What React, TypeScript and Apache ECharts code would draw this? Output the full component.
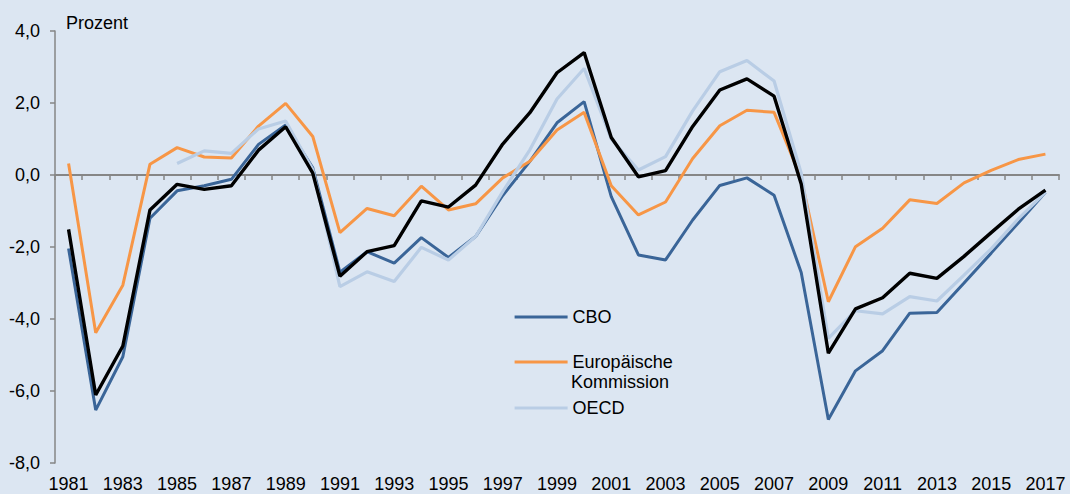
import React, { useEffect, useRef } from "react";
import * as echarts from "echarts";

const years = [
  "1981", "1982", "1983", "1984", "1985", "1986", "1987", "1988", "1989", "1990",
  "1991", "1992", "1993", "1994", "1995", "1996", "1997", "1998", "1999", "2000",
  "2001", "2002", "2003", "2004", "2005", "2006", "2007", "2008", "2009", "2010",
  "2011", "2012", "2013", "2014", "2015", "2016", "2017",
];

const cbo = [
  -2.04, -6.53, -5.05, -1.2, -0.44, -0.3, -0.12, 0.85, 1.39, 0.2,
  -2.7, -2.13, -2.45, -1.74, -2.29, -1.71, -0.57, 0.38, 1.45, 2.04,
  -0.6, -2.22, -2.36, -1.25, -0.29, -0.08, -0.56, -2.71, -6.79, -5.44,
  -4.88, -3.84, -3.82, -3.0, -2.17, -1.33, -0.48,
];

const europaeischeKommission = [
  0.32, -4.38, -3.06, 0.3, 0.76, 0.5, 0.47, 1.36, 1.99, 1.07,
  -1.6, -0.93, -1.13, -0.31, -0.97, -0.8, -0.08, 0.38, 1.25, 1.74,
  -0.3, -1.11, -0.75, 0.46, 1.37, 1.8, 1.74, -0.1, -3.52, -1.99,
  -1.48, -0.69, -0.79, -0.22, 0.13, 0.43, 0.58,
];

const oecd = [
  null, null, null, null, 0.32, 0.67, 0.6, 1.28, 1.5, 0.15,
  -3.1, -2.69, -2.96, -2.01, -2.36, -1.71, -0.46, 0.7, 2.11, 2.96,
  1.0, 0.14, 0.51, 1.78, 2.87, 3.18, 2.61, 0.05, -4.54, -3.77,
  -3.86, -3.38, -3.5, -2.78, -2.05, -1.22, -0.48,
];

const durchschnitt = [
  -1.51, -6.11, -4.75, -0.97, -0.26, -0.4, -0.3, 0.69, 1.34, 0.05,
  -2.81, -2.13, -1.96, -0.72, -0.89, -0.28, 0.86, 1.73, 2.84, 3.4,
  1.04, -0.05, 0.12, 1.35, 2.36, 2.67, 2.19, -0.25, -4.95, -3.72,
  -3.41, -2.73, -2.87, -2.26, -1.6, -0.95, -0.42,
];

const FONT = "'Liberation Sans', Arial, sans-serif";
const AXIS_GRAY = "#868686";

export default function App() {
  const ref = useRef<HTMLDivElement>(null);

  useEffect(() => {
    if (!ref.current) return;
    const chart = echarts.init(ref.current, null, { renderer: "svg" });
    const mkLine = (name: string, data: any[], color: string, width: number) => ({
      name,
      type: "line",
      data,
      xAxisIndex: 0,
      yAxisIndex: 0,
      symbol: "none",
      lineStyle: { color, width },
      itemStyle: { color },
      emphasis: { disabled: true },
    });
    const legendBase = {
      orient: "vertical",
      left: 513,
      padding: 0,
      itemWidth: 53,
      itemHeight: 14,
      selectedMode: false,
      itemStyle: { opacity: 0 },
      lineStyle: { width: 3.2 },
      textStyle: { fontFamily: FONT, fontSize: 18, color: "#000", lineHeight: 22 },
    };
    chart.setOption({
      animation: false,
      backgroundColor: "#dce6f2",
      textStyle: { fontFamily: FONT },
      title: {
        text: "Prozent",
        left: 66,
        top: 14,
        padding: 0,
        textStyle: { fontFamily: FONT, fontSize: 18, fontWeight: "normal", color: "#000" },
      },
      grid: { left: 55, right: 11, top: 31, bottom: 31, outerBoundsMode: "none" },
      legend: [
        { ...legendBase, top: 306, data: ["CBO"] },
        {
          ...legendBase,
          top: 351,
          data: ["Europäische Kommission"],
          formatter: () => "Europäische",
        },
        { ...legendBase, top: 397, data: ["OECD"] },
      ],
      graphic: [
        {
          type: "text",
          left: 571,
          top: 373,
          style: { text: "Kommission", font: `18px ${FONT}`, fill: "#000" },
        },
      ],
      xAxis: [
        {
          type: "category",
          data: years,
          position: "bottom",
          axisLine: { show: false, onZero: false },
          axisTick: { show: false },
          axisLabel: { interval: 1, fontFamily: FONT, fontSize: 18, color: "#000", margin: 12 },
          splitLine: { show: false },
        },
        {
          type: "category",
          data: years,
          position: "bottom",
          axisLine: { show: true, onZero: true, lineStyle: { color: AXIS_GRAY, width: 2 } },
          axisTick: { show: true, interval: 0, length: 5, lineStyle: { color: AXIS_GRAY, width: 1.5 } },
          axisLabel: { show: false },
          splitLine: { show: false },
        },
      ],
      yAxis: {
        type: "value",
        min: -8,
        max: 4,
        interval: 2,
        axisLine: { show: true, onZero: false, lineStyle: { color: AXIS_GRAY, width: 1.5 } },
        axisTick: { show: true, length: 5, lineStyle: { color: AXIS_GRAY, width: 1.5 } },
        axisLabel: {
          fontFamily: FONT,
          fontSize: 18,
          color: "#000",
          margin: 15,
          formatter: (v: number) => v.toFixed(1).replace(".", ","),
        },
        splitLine: { show: false },
      },
      series: [
        mkLine("CBO", cbo, "#3a6598", 3),
        mkLine("Europäische Kommission", europaeischeKommission, "#f79646", 3),
        mkLine("OECD", oecd, "#b9cde5", 3.2),
        mkLine("Durchschnitt", durchschnitt, "#000000", 3.4),
      ],
    });
    return () => chart.dispose();
  }, []);

  return (
    <div
      ref={ref}
      style={{ position: "absolute", left: 0, top: 0, width: 1070, height: 494 }}
    />
  );
}
